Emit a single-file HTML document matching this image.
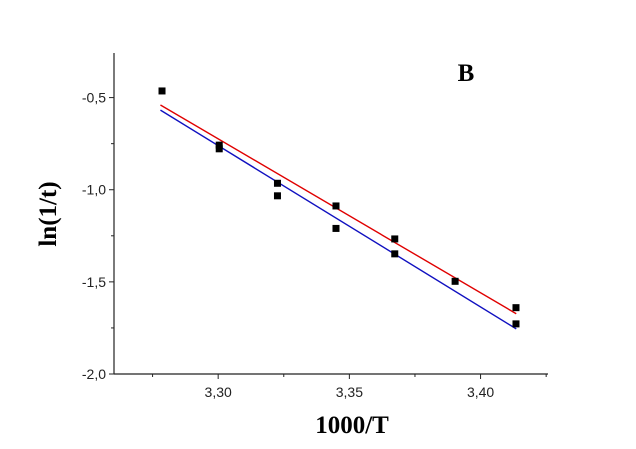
<!DOCTYPE html>
<html><head><meta charset="utf-8"><style>
html,body{margin:0;padding:0;background:#fff;width:636px;height:449px;overflow:hidden}
</style></head><body>
<svg id="chart" width="636" height="449" xmlns="http://www.w3.org/2000/svg">
<g id="axes"></g><g id="lines"></g><g id="points"></g>
<text x="466" y="81" text-anchor="middle" font-family="Liberation Serif, serif" font-weight="bold" font-size="25">B</text>
<text x="352" y="433" text-anchor="middle" font-family="Liberation Serif, serif" font-weight="bold" font-size="25">1000/T</text>
<text transform="translate(56,214) rotate(-90)" text-anchor="middle" font-family="Liberation Serif, serif" font-weight="bold" font-size="25">ln(1/t)</text>
</svg>
<script>
const xData = [3.2786,3.3004,3.3004,3.3226,3.3226,3.3449,3.3449,3.3673,3.3673,3.3903,3.4135,3.4135];
const yData = [-0.464,-0.758,-0.778,-0.965,-1.033,-1.088,-1.210,-1.267,-1.348,-1.497,-1.640,-1.728];
const redFit = [[3.278,-0.540],[3.4136,-1.673]];
const blueFit = [[3.278,-0.568],[3.4136,-1.755]];
const xTicks = [3.30,3.35,3.40];
const xTickLabels = ["3,30","3,35","3,40"];
const yTicks = [-0.5,-1.0,-1.5,-2.0];
const yTickLabels = ["-0,5","-1,0","-1,5","-2,0"];

const X0=114,X1=548,Y0=374,Y1=53;
const xmin=3.2603,xmax=3.4257,ymin=-2.0,ymax=-0.258;
const sx=v=>X0+(v-xmin)/(xmax-xmin)*(X1-X0);
const sy=v=>Y0-(v-ymin)/(ymax-ymin)*(Y0-Y1);
const NS='http://www.w3.org/2000/svg';
function mk(tag,attrs,parent){const e=document.createElementNS(NS,tag);for(const k in attrs)e.setAttribute(k,attrs[k]);parent.appendChild(e);return e;}
const ax=document.getElementById('axes');
let e=mk('line',{x1:X0,y1:Y1,x2:X0,y2:Y0,stroke:'#222','stroke-width':1.2},ax);


e=mk('line',{x1:X0,y1:Y0,x2:X1,y2:Y0,stroke:'#222','stroke-width':1.2},ax);


for(let i=0;i<xTicks.length;i++){
  const x=sx(xTicks[i]);
  mk('line',{x1:x,y1:Y0,x2:x,y2:Y0+5,stroke:'#222'},ax);
  const t=mk('text',{x:x,y:Y0+23,'text-anchor':'middle','font-family':'Liberation Sans, sans-serif','font-size':14,fill:'#222'},ax);
  t.textContent=xTickLabels[i];
  
  
}
for(let v=3.275;v<xmax;v+=0.05){const x=sx(v);mk('line',{x1:x,y1:Y0,x2:x,y2:Y0+3,stroke:'#222'},ax);}
for(let i=0;i<yTicks.length;i++){
  const y=sy(yTicks[i]);
  mk('line',{x1:X0-5,y1:y,x2:X0,y2:y,stroke:'#222'},ax);
  const t=mk('text',{x:X0-8,y:y+5,'text-anchor':'end','font-family':'Liberation Sans, sans-serif','font-size':14,fill:'#222'},ax);
  t.textContent=yTickLabels[i];
  
  
}
for(let v=-0.75;v>ymin;v-=0.5){const y=sy(v);mk('line',{x1:X0-3,y1:y,x2:X0,y2:y,stroke:'#222'},ax);}
const lg=document.getElementById('lines');
e=mk('line',{x1:sx(redFit[0][0]),y1:sy(redFit[0][1]),x2:sx(redFit[1][0]),y2:sy(redFit[1][1]),stroke:'#e00000','stroke-width':1.4},lg);


e=mk('line',{x1:sx(blueFit[0][0]),y1:sy(blueFit[0][1]),x2:sx(blueFit[1][0]),y2:sy(blueFit[1][1]),stroke:'#1010c0','stroke-width':1.4},lg);


const pg=document.getElementById('points');
for(let i=0;i<xData.length;i++){
  const p=mk('rect',{x:sx(xData[i])-3.5,y:sy(yData[i])-3.5,width:7,height:7,fill:'#000'},pg);
  
  
}
</script>
</body></html>
